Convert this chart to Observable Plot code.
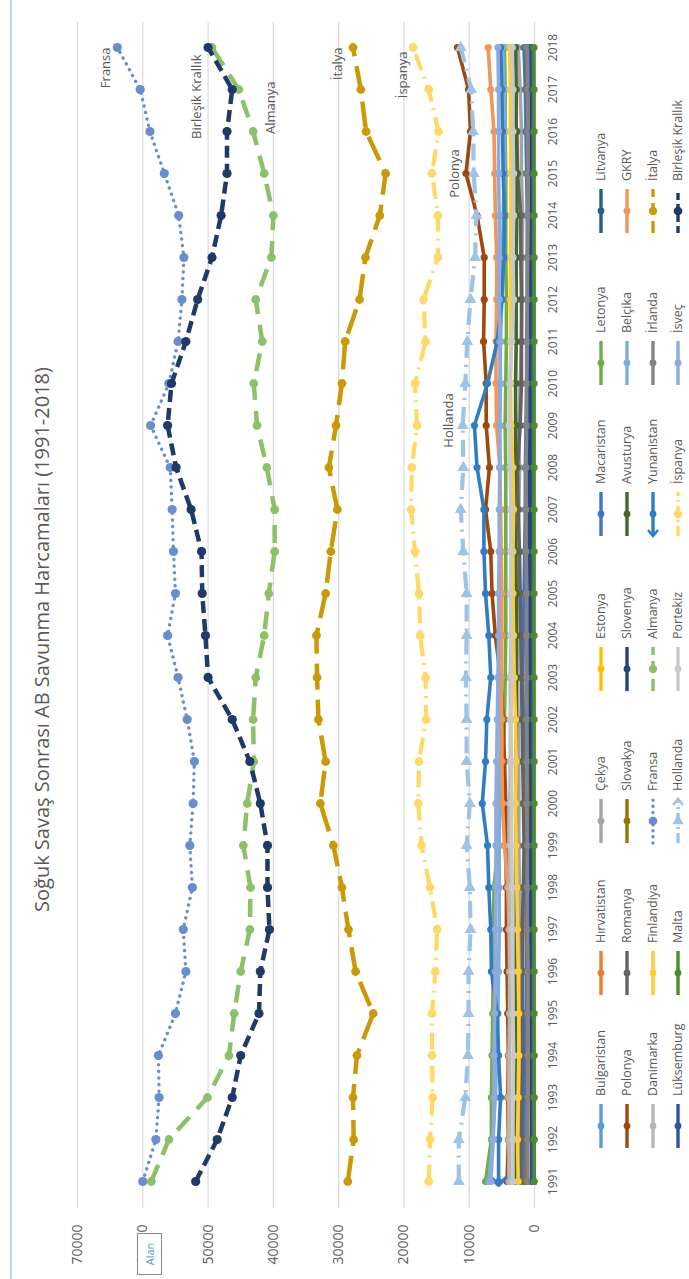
<!DOCTYPE html>
<html><head><meta charset="utf-8">
<script src="https://cdn.jsdelivr.net/npm/d3@7"></script>
<script src="https://cdn.jsdelivr.net/npm/@observablehq/plot@0.6"></script>
<style>
html,body{margin:0;padding:0;background:#fff;overflow:hidden;width:689px;height:1279px;}
#rot{position:absolute;left:0;top:0;width:1279px;height:689px;transform-origin:0 0;transform:translateY(1279px) rotate(-90deg);font-family:"Open Sans",sans-serif;background:#fff;overflow:hidden;}
#frame{position:absolute;left:0;top:10px;width:1279px;height:0;border-top:2px solid #BDD7EE;}
#title{position:absolute;left:0;top:28px;width:1279px;text-align:center;font-size:20px;line-height:28px;color:#595959;}
#chart{position:absolute;left:0;top:0;}
.leg{position:absolute;display:flex;align-items:center;font-size:12.5px;line-height:14px;color:#595959;white-space:nowrap;height:14px;}
.leg svg{margin-right:6px;}
#alan{position:absolute;left:4px;top:137px;width:40px;height:23px;border:1.5px solid #8c8c8c;background:#fff;font-size:11px;color:#5B9BD5;display:flex;align-items:center;justify-content:center;}
</style></head><body>
<div id="rot"><div id="frame"></div><div id="chart"></div><div id="title"></div><div id="alan">Alan</div></div>
<script>
const years = [1991,1992,1993,1994,1995,1996,1997,1998,1999,2000,2001,2002,2003,2004,2005,2006,2007,2008,2009,2010,2011,2012,2013,2014,2015,2016,2017,2018];
const yTicks = [0,10000,20000,30000,40000,50000,60000,70000];
const titleText = "Soğuk Savaş Sonrası AB Savunma Harcamaları (1991-2018)";

const bulgaristan = [1500,1300,1200,1100,1000,900,800,900,1000,1000,1000,1100,1100,1100,1100,1100,1200,1300,1100,1000,900,900,900,900,900,900,900,1100];
const hirvatistan = [1500,1800,2000,2200,2300,1900,1700,1500,1300,1100,1000,1000,1000,1000,1000,1100,1100,1200,1100,1000,1000,900,900,800,800,800,900,900];
const cekya = [2600,2400,2300,2300,2200,2200,2100,2300,2400,2400,2400,2500,2600,2500,2500,2500,2400,2300,2400,2200,2000,1900,1900,1800,2000,2000,2200,2500];
const estonya = [100,150,150,200,200,250,250,300,300,300,350,400,450,500,550,600,700,650,550,500,550,550,600,600,650,650,650,700];
const macaristan = [1800,1700,1600,1500,1300,1200,1200,1300,1400,1500,1600,1700,1800,1700,1600,1500,1400,1400,1300,1200,1200,1100,1100,1100,1200,1300,1400,1600];
const letonya = [7500,6600,6600,6500,6400,6300,6300,6200,5600,5200,4900,4600,4500,4400,4400,4400,4400,4400,4500,4400,4300,4300,4400,4400,4400,4500,4500,4600];
const litvanya = [100,100,100,150,200,200,300,350,350,400,400,400,450,500,550,550,600,650,500,450,400,400,400,450,600,750,900,1000];
const polonya = [4200,4000,4100,4000,4100,4200,4300,4300,4400,4400,4600,4800,5200,6000,6500,6700,7500,6900,7400,7400,7800,7700,7700,8800,10500,9800,10100,11800];
const romanya = [2200,2000,1900,1800,1900,1800,1900,1700,1600,1700,1800,1900,2000,2100,2200,2300,2500,2600,2200,2000,2000,2000,2100,2100,2600,2700,3500,3800];
const slovakya = [1200,1100,1000,1000,1000,1000,1000,900,800,900,900,1000,1000,1000,1100,1100,1100,1100,1100,1000,900,900,900,900,1000,1000,1100,1200];
const slovenya = [400,400,450,450,500,500,550,550,550,500,550,600,600,650,650,700,700,750,750,700,600,550,500,450,450,450,450,500];
const avusturya = [2900,2900,2800,2800,2800,2800,2800,2800,2800,2900,2800,2800,2800,2800,2800,2900,3000,2900,2900,2900,2800,2800,2800,2700,2700,2800,2800,2900];
const belcika = [7000,6400,6000,5800,5600,5500,5400,5400,5400,5400,5300,5200,5300,5300,5200,5200,5300,5300,5400,5300,5200,5000,4900,4800,4600,4600,4700,4900];
const gkry = [3800,3900,4000,3900,3800,3800,3900,4100,4600,4900,5000,5000,5100,5000,5000,5100,5200,5300,5800,5900,5900,5800,5800,6000,6100,6200,6700,7100];
const danimarka = [3900,3900,3800,3800,3800,3800,3800,3800,3800,3800,3700,3700,3700,3600,3600,3600,3600,3700,3700,3700,3600,3500,3400,3300,3300,3400,3500,3700];
const finlandiya = [2500,2600,2500,2400,2400,2500,2600,2700,2800,2900,2800,2900,3100,3200,3300,3300,3200,3300,3600,3700,3600,3700,3700,3600,3600,3700,3700,3800];
const fransa = [60000,58000,57500,57600,55000,53400,53800,52400,52800,52300,52100,53200,54600,56200,55000,55300,55500,55800,58800,56000,54600,54000,53700,54500,56700,58900,60400,63900];
const almanya = [58700,56000,50100,46800,46000,45000,43600,43500,44600,44000,43000,43100,42700,41400,40700,39800,39800,41000,42500,43000,41700,42700,40300,40000,41400,43100,45300,49400];
const yunanistan = [5500,5500,5200,5500,5700,6600,6700,7000,7200,8000,7500,7300,6700,7000,7500,7750,7750,8800,9200,7200,5700,5000,4700,4600,4800,4900,5000,5200];
const irlanda = [1000,1000,1000,1000,1000,1000,1100,1100,1100,1200,1200,1200,1200,1200,1200,1300,1300,1300,1200,1200,1100,1100,1100,1000,1000,1000,1000,1100];
const italya = [28600,27700,27800,27200,24700,27400,28500,29500,30800,32800,32000,33100,33300,33400,32000,31200,30200,31500,30400,29500,29000,26800,25900,23700,22800,25800,26600,27800];
const luksemburg = [200,200,200,200,200,200,200,200,200,200,250,250,250,250,250,250,250,250,250,250,250,200,200,200,250,250,300,350];
const malta = [60,60,55,55,55,55,60,60,60,60,60,60,65,65,65,65,65,65,60,60,60,60,60,60,65,65,70,75];
const hollanda = [11600,11600,10600,10200,10100,10100,9800,9900,10400,9900,10400,10400,10500,10400,10400,10900,11300,10900,11000,10600,10300,9800,9100,8900,9300,9400,9700,11300];
const portekiz = [3300,3300,3300,3200,3300,3400,3400,3400,3500,3500,3500,3600,3500,3600,3700,3600,3600,3700,3900,3800,3500,3200,3300,3200,3200,3300,3300,3400];
const ispanya = [16200,16000,15600,15700,15700,15200,14900,16000,17300,17800,17700,16600,16700,17500,17700,18300,18900,18800,18000,18300,16700,17000,14800,14800,15700,14700,16200,18600];
const isvec = [6700,6300,6200,6200,6100,6000,6000,5900,5900,5900,5800,5700,5600,5500,5500,5400,5400,5300,5300,5200,5300,5400,5400,5400,5500,5500,5500,5600];
const birlesikKrallik = [51900,48600,46300,45000,42200,42000,40600,40900,40900,42000,43600,46300,50000,50400,50900,51000,52600,54900,56200,55600,53400,51600,49400,48000,47100,47100,46300,50000];

const countries = ["Bulgaristan","Hırvatistan","Çekya","Estonya","Macaristan","Letonya","Litvanya","Polonya","Romanya","Slovakya","Slovenya","Avusturya","Belçika","GKRY","Danimarka","Finlandiya","Fransa","Almanya","Yunanistan","İrlanda","İtalya","Lüksemburg","Malta","Hollanda","Portekiz","İspanya","İsveç","Birleşik Krallık"];
const seriesValues = [bulgaristan,hirvatistan,cekya,estonya,macaristan,letonya,litvanya,polonya,romanya,slovakya,slovenya,avusturya,belcika,gkry,danimarka,finlandiya,fransa,almanya,yunanistan,irlanda,italya,luksemburg,malta,hollanda,portekiz,ispanya,isvec,birlesikKrallik];
const colors = ["#5B9BD5","#ED7D31","#A5A5A5","#FFC000","#4472C4","#70AD47","#255E91","#9E480E","#636363","#997300","#264478","#43682B","#7CAFDD","#F1975A","#B7B7B7","#FFCD33","#698ED0","#8CC168","#327DC2","#848484","#C99A06","#2F53A0","#4E8A2E","#9DC3E6","#C9C9C9","#FFD966","#8FAADC","#1F3A68"];

const labels = [
  {country:"Fransa", year:2018, anchor:"end", dx:0, dy:-11},
  {country:"Birleşik Krallık", year:2018, anchor:"end", dx:-7, dy:-11},
  {country:"Almanya", year:2017, anchor:"end", dx:8, dy:32},
  {country:"İtalya", year:2018, anchor:"end", dx:0, dy:-15},
  {country:"İspanya", year:2018, anchor:"end", dx:-4, dy:-10},
  {country:"Polonya", year:2015, anchor:"middle", dx:0, dy:-11},
  {country:"Hollanda", year:2009, anchor:"middle", dx:5, dy:-14}
];

function styleOf(name){
  const s = {w:3.6, dash:null, cap:"butt", r:3.6, symbol:"circle", ms:null, me:null, rot:0};
  if (name==="Fransa") Object.assign(s,{dash:"0.1 6.5", cap:"round", w:3.4, r:4.6});
  if (name==="Birleşik Krallık") Object.assign(s,{dash:"12 6", w:4.5, r:4.6});
  if (name==="Almanya") Object.assign(s,{dash:"18 11", w:4.5, r:4.4});
  if (name==="İtalya") Object.assign(s,{dash:"26 10", w:4.5, r:4.4});
  if (name==="İspanya") Object.assign(s,{dash:"17 7 2 7", w:4.2, r:4.4});
  if (name==="Hollanda") Object.assign(s,{dash:"17 7 2 7", w:4.2, r:4.4, symbol:"triangle", rot:90});
  if (name==="Yunanistan") Object.assign(s,{ms:"arrow-reverse"});
  return s;
}

const tables = countries.map((c,i)=>years.map((year,j)=>({country:c, year, value:seriesValues[i][j]})));
const valueAt = (c,yr)=>seriesValues[countries.indexOf(c)][years.indexOf(yr)];

const marks = [
  Plot.gridY(yTicks, {stroke:"#D9D9D9", strokeOpacity:1, strokeWidth:1.2}),
  Plot.axisY(yTicks, {tickSize:0, tickPadding:17, tickFormat:d=>`${d}`, fontSize:14, color:"#595959", label:null}),
  Plot.axisX(years, {tickSize:0, tickPadding:14, tickFormat:d=>`${d}`, fontSize:12, color:"#595959", label:null})
];
tables.forEach((rows,i)=>{
  const s = styleOf(countries[i]);
  marks.push(Plot.line(rows, {x:"year", y:"value", stroke:colors[i], strokeWidth:s.w, strokeDasharray:s.dash, strokeLinecap:s.cap, strokeLinejoin:"round", markerStart:s.ms, markerEnd:s.me}));
  marks.push(Plot.dot(rows, {x:"year", y:"value", fill:colors[i], stroke:"none", r:s.r, symbol:s.symbol, rotate:s.rot}));
});
labels.forEach(l=>{
  marks.push(Plot.text([l], {x:"year", y:d=>valueAt(d.country,d.year), text:"country", textAnchor:l.anchor, dx:l.dx, dy:l.dy, fontSize:13, fill:"#595959"}));
});

const svg = Plot.plot({
  width:1279, height:580,
  marginTop:77, marginBottom:46, marginLeft:71, marginRight:22,
  x:{type:"point", domain:years, padding:0.5, label:null},
  y:{domain:[0,70000], label:null},
  style:{fontFamily:"Open Sans", background:"transparent", overflow:"visible"},
  marks
});
document.getElementById("chart").appendChild(svg);
document.getElementById("title").textContent = titleText;

// legend
const rot = document.getElementById("rot");
const rowY = [601,627,653,678];
const colX = [129,282,434,586,741,892,1044];
countries.forEach((c,i)=>{
  const s = styleOf(c);
  const r = Math.floor(i/7), k = i%7;
  const div = document.createElement("div");
  div.className = "leg";
  div.style.left = colX[k]+"px";
  div.style.top = (rowY[r]-7)+"px";
  const sw = d3.create("svg").attr("width",48).attr("height",14);
  const ln = sw.append("line").attr("x1",2).attr("x2",46).attr("y1",7).attr("y2",7)
    .attr("stroke",colors[i]).attr("stroke-width",3.4).attr("stroke-linecap", s.cap==="round"?"round":"butt");
  if (s.dash) ln.attr("stroke-dasharray", c==="Fransa" ? "0.1 6" : (c==="Birleşik Krallık" ? "7 4" : (c==="Almanya"||c==="İtalya" ? "12 6" : "10 4 2 4")));
  const sym = d3.symbol().type(s.symbol==="triangle"?d3.symbolTriangle:d3.symbolCircle).size(Math.PI*s.r*s.r*0.9);
  sw.append("path").attr("d",sym()).attr("transform",`translate(24,7) rotate(${s.rot})`).attr("fill",colors[i]);
  if (c==="Yunanistan") sw.append("path").attr("d","M8,2 L2,7 L8,12").attr("fill","none").attr("stroke",colors[i]).attr("stroke-width",2.5);
  if (c==="Hollanda") sw.append("path").attr("d","M40,2 L46,7 L40,12").attr("fill","none").attr("stroke",colors[i]).attr("stroke-width",2.5);
  div.appendChild(sw.node());
  const t = document.createElement("span"); t.textContent = c; div.appendChild(t);
  rot.appendChild(div);
});
</script>
</body></html>
